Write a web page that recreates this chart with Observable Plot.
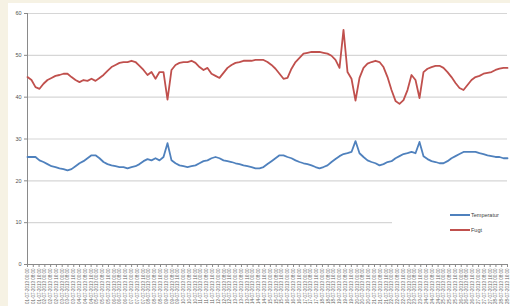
<!DOCTYPE html>
<html>
<head>
<meta charset="utf-8">
<script src="https://cdn.jsdelivr.net/npm/d3@7"></script>
<script src="https://cdn.jsdelivr.net/npm/@observablehq/plot@0.6"></script>
<style>
  html, body { margin: 0; padding: 0; background: #f6f2e4; }
  #wrap { position: relative; width: 510px; height: 306px; overflow: hidden; font-family: "Liberation Sans", Arial, sans-serif; }
  #paper { position: absolute; left: 8px; top: 3px; width: 502px; height: 303px; background: #ffffff; }
  #chart { position: absolute; left: 0; top: 0; }
  #legend { position: absolute; left: 392px; top: 203px; width: 118px; height: 40px; background: #ffffff; }
  .item { position: absolute; left: 58px; height: 8px; font-size: 5.5px; color: #404040; display: flex; align-items: center; white-space: nowrap; }
  .swatch { display: inline-block; width: 20px; height: 0; border-top: 2px solid; margin-right: 1px; }
</style>
</head>
<body>
<div id="wrap">
  <div id="paper"></div>
  <div id="chart"></div>
  <div id="legend">
    <div class="item" style="top:8px"><span class="swatch" style="border-color:#4F81BD"></span>Temperatur</div>
    <div class="item" style="top:23px"><span class="swatch" style="border-color:#C0504D"></span>Fugt</div>
  </div>
</div>
<script>
const seriesNames = ["Temperatur", "Fugt"];

const temperatur = [
  25.7, 25.7, 25.7, 24.9, 24.5, 24.0, 23.5, 23.3, 23.0, 22.8,
  22.5, 22.8, 23.5, 24.2, 24.7, 25.4, 26.1, 26.1, 25.4, 24.5,
  24.0, 23.7, 23.5, 23.3, 23.3, 23.0, 23.3, 23.5, 24.0, 24.7,
  25.2, 24.9, 25.4, 24.9, 25.7, 29.0, 24.9, 24.2, 23.7, 23.5,
  23.3, 23.5, 23.7, 24.2, 24.7, 24.9, 25.4, 25.7, 25.4, 24.9,
  24.7, 24.5, 24.2, 24.0, 23.7, 23.5, 23.3, 23.0, 23.0, 23.3,
  24.0, 24.7, 25.4, 26.1, 26.1, 25.7, 25.4, 24.9, 24.5, 24.2,
  24.0, 23.7, 23.3, 23.0, 23.3, 23.7, 24.5, 25.2, 25.9, 26.4,
  26.6, 26.9, 29.5, 26.6, 25.7, 24.9, 24.5, 24.2, 23.7, 24.0,
  24.5, 24.7, 25.4, 25.9, 26.4, 26.6, 26.9, 26.6, 29.3, 25.9,
  25.2, 24.7, 24.5, 24.2, 24.2, 24.7, 25.4, 25.9, 26.4, 26.9,
  26.9, 26.9, 26.9, 26.6, 26.4, 26.1, 25.9, 25.7, 25.7, 25.4,
  25.4
];

const fugt = [
  44.8, 44.1, 42.4, 42.0, 43.2, 44.1, 44.6, 45.1, 45.3, 45.6,
  45.6, 44.8, 44.1, 43.6, 44.1, 43.9, 44.4, 43.9, 44.6, 45.3,
  46.3, 47.2, 47.7, 48.2, 48.4, 48.4, 48.7, 48.4, 47.5, 46.5,
  45.3, 46.0, 44.4, 46.0, 46.0, 39.4, 46.5, 47.7, 48.2, 48.4,
  48.4, 48.7, 48.2, 47.2, 46.5, 47.0, 45.6, 45.1, 44.6, 45.8,
  47.0, 47.7, 48.2, 48.4, 48.7, 48.7, 48.7, 48.9, 48.9, 48.9,
  48.4, 47.7, 46.8, 45.6, 44.4, 44.6, 46.8, 48.4, 49.4, 50.4,
  50.6, 50.8, 50.8, 50.8, 50.6, 50.4, 49.9, 48.9, 47.0, 56.1,
  46.0, 44.4, 39.2, 44.6, 47.0, 48.0, 48.4, 48.7, 48.4, 47.2,
  44.8, 41.7, 39.1, 38.4, 39.3, 41.7, 45.3, 44.1, 39.8, 46.0,
  46.8, 47.2, 47.5, 47.5, 47.0, 46.0, 44.8, 43.4, 42.2, 41.7,
  42.9, 44.1, 44.8, 45.1, 45.6, 45.8, 46.0, 46.5, 46.8, 47.0,
  47.0
];

const yTicks = [0, 10, 20, 30, 40, 50, 60];

const xTickLabels = [
  "01-07-2013 00:00", "01-07-2013 08:00", "01-07-2013 16:00",
  "02-07-2013 00:00", "02-07-2013 08:00", "02-07-2013 16:00",
  "03-07-2013 00:00", "03-07-2013 08:00", "03-07-2013 16:00",
  "04-07-2013 00:00", "04-07-2013 08:00", "04-07-2013 16:00",
  "05-07-2013 00:00", "05-07-2013 08:00", "05-07-2013 16:00",
  "06-07-2013 00:00", "06-07-2013 08:00", "06-07-2013 16:00",
  "07-07-2013 00:00", "07-07-2013 08:00", "07-07-2013 16:00",
  "08-07-2013 00:00", "08-07-2013 08:00", "08-07-2013 16:00",
  "09-07-2013 00:00", "09-07-2013 08:00", "09-07-2013 16:00",
  "10-07-2013 00:00", "10-07-2013 08:00", "10-07-2013 16:00",
  "11-07-2013 00:00", "11-07-2013 08:00", "11-07-2013 16:00",
  "12-07-2013 00:00", "12-07-2013 08:00", "12-07-2013 16:00",
  "13-07-2013 00:00", "13-07-2013 08:00", "13-07-2013 16:00",
  "14-07-2013 00:00", "14-07-2013 08:00", "14-07-2013 16:00",
  "15-07-2013 00:00", "15-07-2013 08:00", "15-07-2013 16:00",
  "16-07-2013 00:00", "16-07-2013 08:00", "16-07-2013 16:00",
  "17-07-2013 00:00", "17-07-2013 08:00", "17-07-2013 16:00",
  "18-07-2013 00:00", "18-07-2013 08:00", "18-07-2013 16:00",
  "19-07-2013 00:00", "19-07-2013 08:00", "19-07-2013 16:00",
  "20-07-2013 00:00", "20-07-2013 08:00", "20-07-2013 16:00",
  "21-07-2013 00:00", "21-07-2013 08:00", "21-07-2013 16:00",
  "22-07-2013 00:00", "22-07-2013 08:00", "22-07-2013 16:00",
  "23-07-2013 00:00", "23-07-2013 08:00", "23-07-2013 16:00",
  "24-07-2013 00:00", "24-07-2013 08:00", "24-07-2013 16:00",
  "25-07-2013 00:00", "25-07-2013 08:00", "25-07-2013 16:00",
  "26-07-2013 00:00", "26-07-2013 08:00", "26-07-2013 16:00",
  "27-07-2013 00:00", "27-07-2013 08:00", "27-07-2013 16:00",
  "28-07-2013 00:00", "28-07-2013 08:00", "28-07-2013 16:00"
];

const lastIndex = fugt.length - 1;
const tickPositions = xTickLabels.map((_, k) => k * lastIndex / (xTickLabels.length - 1));
const labelAt = new Map(tickPositions.map((p, k) => [p, xTickLabels[k]]));

const rows = [
  ...temperatur.map((v, i) => ({i, v, s: seriesNames[0]})),
  ...fugt.map((v, i) => ({i, v, s: seriesNames[1]}))
];

const chart = Plot.plot({
  width: 510,
  height: 306,
  marginLeft: 27,
  marginRight: 3,
  marginTop: 13,
  marginBottom: 42,
  style: {background: "transparent", fontFamily: "Liberation Sans, Arial, sans-serif"},
  x: {type: "linear", domain: [0, lastIndex], label: null},
  y: {domain: [0, 60], label: null},
  color: {domain: seriesNames, range: ["#4F81BD", "#C0504D"]},
  marks: [
    Plot.gridY(yTicks, {stroke: "#d6d6d6", strokeOpacity: 1, strokeWidth: 1.2}),
    Plot.ruleX([0], {stroke: "#8a8a8a"}),
    Plot.ruleY([0], {stroke: "#8a8a8a"}),
    Plot.lineY(rows, {x: "i", y: "v", z: "s", stroke: "s", strokeWidth: 1.8}),
    Plot.axisY(yTicks, {label: null, tickSize: 3, tickPadding: 3, fontSize: 5.5, fill: "#505050", stroke: "#8a8a8a"}),
    Plot.axisX(tickPositions, {label: null, tickSize: 3, tickPadding: 1, tickRotate: -90, fontSize: 4.5, fill: "#606060", stroke: "#8a8a8a", tickFormat: d => labelAt.get(d)})
  ]
});
document.getElementById("chart").appendChild(chart);
</script>
</body>
</html>
